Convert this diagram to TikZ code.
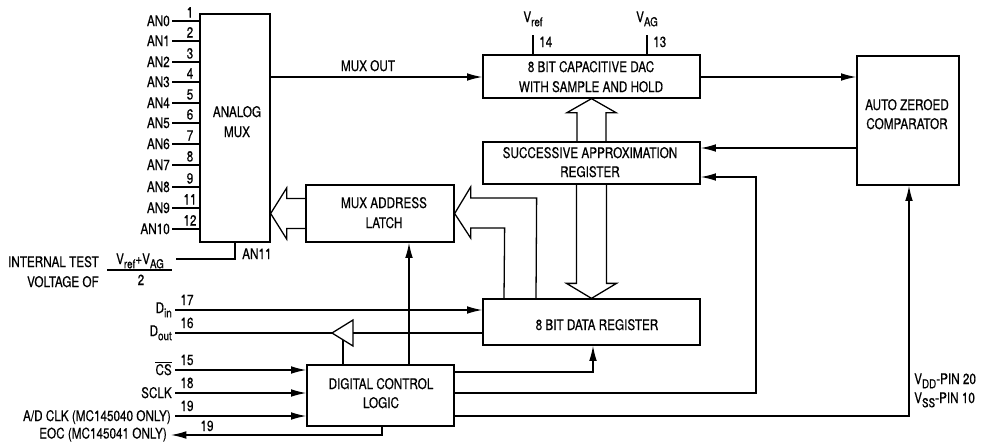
\documentclass[tikz,border=0pt]{standalone}
\usepackage{fontspec}
\setmainfont{TeX Gyre Heros}[FakeStretch=0.8,FakeBold=0.5]
\usetikzlibrary{arrows.meta,fit,calc}
\newcommand{\lsub}[1]{\raisebox{-0.55ex}{\fontsize{10.5}{10.5}\selectfont #1}}
\begin{document}
\begin{tikzpicture}[x=0.03cm,y=-0.03cm,
  every node/.style={font=\fontsize{12.5}{16}\selectfont, inner sep=0pt},
  blk/.style={draw, line width=1.1pt},
  txt/.style={anchor=base},
  wire/.style={line width=1.1pt},
  arr/.style={wire, -{Latex[length=4.6mm,width=2.3mm]}},
  hollow/.style={line width=1.1pt, line join=miter}]
\useasboundingbox (0,0) rectangle (999,442);

% blocks
\node[blk, fit={(200,14)(270,242)}] (mux) {};
\node[txt] (muxt1) at (237,117) {ANALOG};
\node[txt] (muxt2) at (237,137) {MUX};
\node[blk, fit={(483,55)(700,98)}] (dac) {};
\node[txt] (dact1) at (591,72) {8 BIT CAPACITIVE DAC};
\node[txt] (dact2) at (591,92) {WITH SAMPLE AND HOLD};
\node[blk, fit={(483,142)(700,184)}] (sar) {};
\node[txt] (sart1) at (590,158) {SUCCESSIVE APPROXIMATION};
\node[txt] (sart2) at (590,177) {REGISTER};
\node[blk, fit={(857,56)(959,185)}] (cmp) {};
\node[txt] (cmpt1) at (907,110) {AUTO ZEROED};
\node[txt] (cmpt2) at (907,129) {COMPARATOR};
\node[blk, fit={(306,185)(454,242)}] (latch) {};
\node[txt] (latt1) at (384,208) {MUX ADDRESS};
\node[txt] (latt2) at (384,228) {LATCH};
\node[blk, fit={(483,299)(700,345)}] (dreg) {};
\node[txt] (dregt) at (597,330) {8 BIT DATA REGISTER};
\node[blk, fit={(307,365)(454,426)}] (dcl) {};
\node[txt] (dclt1) at (381,389) {DIGITAL CONTROL};
\node[txt] (dclt2) at (381,408) {LOGIC};

% analog inputs
\foreach \n/\p/\y in {0/1/21,1/2/41,2/3/62,3/4/82,4/5/103,5/6/123,6/7/144,7/8/165,8/9/187,9/11/208,10/12/229}{
  \coordinate (an\n) at (172,\y);
  \node[anchor=base east] (anl\n) at (170,\y+5) {AN\n};
  \node[txt] (pn\n) at (190,\y-3.5) {\p};
  \draw[wire] (an\n) -- (an\n -| mux.west);
}
% AN11 internal test voltage
\coordinate (an11) at (235,259);
\coordinate (tv) at (176,259);
\draw[wire] (an11 |- mux.south) -- (an11) -- (tv);
\node[anchor=base west] (an11l) at (242,259) {AN11};
\node[txt] (num) at (140,264) {V\lsub{ref}+V\lsub{AG}};
\coordinate (fl) at (107,270);
\coordinate (fr) at (172,270);
\draw[line width=1pt] (fl) -- (fr);
\node[txt] (den) at (141,285) {2};
\node[anchor=base east] (itv1) at (99,267) {INTERNAL TEST};
\node[anchor=base east] (itv2) at (99,287) {VOLTAGE OF};

% DAC reference pins
\coordinate (vr) at (533,35);
\draw[wire] (vr) -- (vr |- dac.north);
\node[txt] (vrl) at (533,22) {V\lsub{ref}};
\node[anchor=base west] (p14) at (539,47) {14};
\coordinate (vag) at (647,35);
\draw[wire] (vag) -- (vag |- dac.north);
\node[txt] (vagl) at (647,22) {V\lsub{AG}};
\node[anchor=base west] (p13) at (653,47) {13};

% MUX OUT
\coordinate (c6) at (300,77);
\draw[arr] (mux.east |- c6) -- (c6 -| dac.west);
\node[txt] (muxo) at (368,71) {MUX OUT};

% DAC -> comparator, comparator -> SAR
\coordinate (c5) at (780,77);
\draw[arr] (dac.east |- c5) -- (c5 -| cmp.west);
\coordinate (c4) at (780,148);
\draw[arr] (cmp.west |- c4) -- (c4 -| sar.east);

% hollow bus arrows
\draw[hollow] ($(sar.north)+(-14.5,0)$) -- ($(dac.south)+(-14.5,14)$) -- ($(dac.south)+(-24.5,14)$) -- (dac.south) -- ($(dac.south)+(24.5,14)$) -- ($(dac.south)+(14.5,14)$) -- ($(sar.north)+(14.5,0)$);
\draw[hollow] ($(sar.south)+(-15,0)$) -- ($(dreg.north)+(-15,-15)$) -- ($(dreg.north)+(-25,-15)$) -- (dreg.north) -- ($(dreg.north)+(25,-15)$) -- ($(dreg.north)+(15,-15)$) -- ($(sar.south)+(15,0)$);
\coordinate (t1) at (mux.east |- latch.west);
\draw[hollow] ($(latch.west)+(0,-15)$) -- ($(t1)+(16,-15)$) -- ($(t1)+(16,-25.5)$) -- (t1) -- ($(t1)+(16,25.5)$) -- ($(t1)+(16,15)$) -- ($(latch.west)+(0,15)$);
\draw[hollow] ($(dreg.north)+(-55.5,0)$) -- ($(latch.east)+(82,-15.5)$) -- ($(latch.east)+(16,-15.5)$) -- ($(latch.east)+(16,-26.5)$) -- (latch.east) -- ($(latch.east)+(16,24.5)$) -- ($(latch.east)+(16,14.5)$) -- ($(latch.east)+(50,14.5)$) -- ($(dreg.north)+(-87.5,0)$);

% serial data lines
\coordinate (din) at (175,310);
\node[anchor=base east] (dinl) at (172,313) {D\lsub{in}};
\node[txt] (p17) at (187,305) {17};
\draw[arr] (din) -- (din -| dreg.west);
\coordinate (dout) at (175,333);
\node[anchor=base east] (doutl) at (172,336) {D\lsub{out}};
\node[txt] (p16) at (187,328) {16};
\coordinate (bufb) at (353,333);
\coordinate (buft) at (332,333);
\draw[wire] (dreg.west |- bufb) -- (bufb);
\draw[wire, line join=miter] (353,320) -- (buft) -- (353,346) -- cycle;
\draw[wire] (buft) -- (dout);
\coordinate (bufc) at (343,340);
\draw[wire] (bufc |- dcl.north) -- (bufc);

% control inputs
\coordinate (cs) at (175,370);
\node[anchor=base east] (csl) at (172,375) {$\overline{\mbox{CS}}$};
\node[txt] (p15) at (187,365) {15};
\draw[arr] (cs) -- (cs -| dcl.west);
\coordinate (sclk) at (175,393);
\node[anchor=base east] (sclkl) at (172,398) {SCLK};
\node[txt] (p18) at (187,388) {18};
\draw[arr] (sclk) -- (sclk -| dcl.west);
\coordinate (adclk) at (175,416);
\node[anchor=base east] (adclkl) at (171,421) {A/D CLK (MC145040 ONLY)};
\node[txt] (p19a) at (187,411) {19};
\draw[arr] (adclk) -- (adclk -| dcl.west);
\coordinate (eoc) at (171,435);
\coordinate (eocd) at (382,435);
\node[anchor=base east] (eocl) at (167,438.5) {EOC (MC145041 ONLY)};
\node[txt] (p19b) at (207,431) {19};
\draw[arr] (eocd |- dcl.south) -- (eocd) -- (eoc);

% control logic outputs
\coordinate (lv) at (409,300);
\draw[arr] (lv |- dcl.north) -- (lv |- latch.south);
\coordinate (c1) at (593,372);
\draw[arr] (dcl.east |- c1) -- (c1) -- (c1 |- dreg.south);
\coordinate (c2) at (756,393);
\coordinate (c2t) at (756,177);
\draw[arr] (dcl.east |- c2) -- (c2) -- (c2t) -- (c2t -| sar.east);
\coordinate (c3) at (909,416);
\draw[arr] (dcl.east |- c3) -- (c3) -- (c3 |- cmp.south);

\node[anchor=base west] (vdd) at (914,384) {V\lsub{DD}-PIN 20};
\node[anchor=base west] (vss) at (914,403) {V\lsub{SS}-PIN 10};
\end{tikzpicture}
\end{document}
